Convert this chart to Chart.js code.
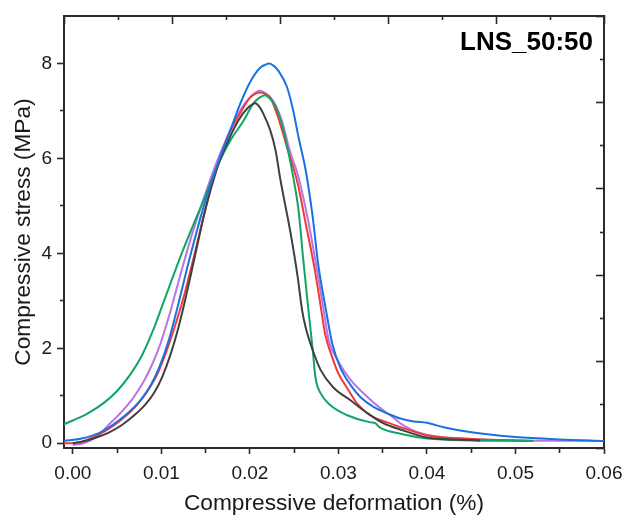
<!DOCTYPE html>
<html>
<head>
<meta charset="utf-8">
<script src="https://cdn.jsdelivr.net/npm/chart.js@4.4.1/dist/chart.umd.min.js"></script>
<style>
    html, body { margin: 0; padding: 0; background: #fff; }
    canvas { display: block; }
</style>
</head>
<body>
<canvas id="chart" width="622" height="516"></canvas>
<script>
// sample label and axis ticks
const sampleName = 'LNS_50:50';
const xTicks = [0, 0.005, 0.01, 0.015, 0.02, 0.025, 0.03, 0.035, 0.04, 0.045, 0.05, 0.055, 0.06];
const yTicks = [0, 1, 2, 3, 4, 5, 6, 7, 8];
const mirrorTicks = [0, 0.5, 1, 1.5, 2, 2.5, 3, 3.5, 4, 4.5, 5];

// curves: deformation (%) / stress (MPa)
const blackX = [0.0000, 0.0010, 0.0025, 0.0040, 0.0055, 0.0070, 0.0082, 0.0092, 0.0101, 0.0110, 0.0118, 0.0126, 0.0138, 0.0150, 0.0162, 0.0175, 0.0187, 0.0197, 0.0206, 0.0211, 0.0215, 0.0223, 0.0229, 0.0234, 0.0238, 0.0246, 0.0254, 0.0259, 0.0263, 0.0271, 0.0280, 0.0294, 0.0314, 0.0333, 0.0351, 0.0370, 0.0400, 0.0430, 0.0460];
const blackY = [0.00, 0.03, 0.11, 0.22, 0.38, 0.60, 0.82, 1.07, 1.40, 1.85, 2.35, 2.95, 3.95, 4.95, 5.75, 6.35, 6.80, 7.05, 7.16, 7.08, 6.95, 6.59, 6.17, 5.60, 5.20, 4.42, 3.50, 2.80, 2.44, 1.96, 1.54, 1.18, 0.90, 0.63, 0.42, 0.29, 0.12, 0.08, 0.06];

const redX = [-0.0010, 0.0000, 0.0010, 0.0028, 0.0045, 0.0060, 0.0073, 0.0085, 0.0096, 0.0106, 0.0115, 0.0124, 0.0137, 0.0150, 0.0163, 0.0176, 0.0189, 0.0200, 0.0206, 0.0211, 0.0217, 0.0223, 0.0232, 0.0242, 0.0254, 0.0263, 0.0272, 0.0279, 0.0285, 0.0293, 0.0300, 0.0310, 0.0321, 0.0336, 0.0355, 0.0370, 0.0400, 0.0450, 0.0520];
const redY = [0.00, 0.00, 0.03, 0.17, 0.36, 0.58, 0.82, 1.12, 1.48, 1.95, 2.45, 3.00, 3.95, 4.95, 5.80, 6.50, 6.95, 7.28, 7.36, 7.39, 7.36, 7.28, 6.86, 6.23, 5.47, 4.63, 3.79, 3.00, 2.30, 1.81, 1.47, 1.16, 0.84, 0.59, 0.44, 0.34, 0.17, 0.09, 0.05];

const greenX = [-0.0010, 0.0000, 0.0017, 0.0035, 0.0050, 0.0065, 0.0078, 0.0090, 0.0103, 0.0123, 0.0145, 0.0166, 0.0178, 0.0193, 0.0204, 0.0211, 0.0217, 0.0223, 0.0229, 0.0238, 0.0243, 0.0249, 0.0255, 0.0260, 0.0265, 0.0271, 0.0274, 0.0280, 0.0291, 0.0310, 0.0336, 0.0342, 0.0344, 0.0348, 0.0370, 0.0400, 0.0450, 0.0520];
const greenY = [0.40, 0.48, 0.63, 0.85, 1.10, 1.45, 1.85, 2.35, 3.00, 4.00, 5.00, 5.95, 6.38, 6.80, 7.16, 7.28, 7.33, 7.25, 7.10, 6.59, 6.17, 5.60, 4.90, 3.92, 3.00, 1.96, 1.39, 1.05, 0.80, 0.59, 0.44, 0.42, 0.38, 0.32, 0.20, 0.10, 0.06, 0.05];

const blueX = [-0.0010, 0.0010, 0.0030, 0.0046, 0.0062, 0.0076, 0.0088, 0.0098, 0.0108, 0.0118, 0.0132, 0.0148, 0.0163, 0.0178, 0.0189, 0.0200, 0.0211, 0.0217, 0.0222, 0.0227, 0.0232, 0.0242, 0.0249, 0.0255, 0.0263, 0.0271, 0.0277, 0.0286, 0.0293, 0.0302, 0.0314, 0.0325, 0.0340, 0.0355, 0.0370, 0.0385, 0.0400, 0.0420, 0.0450, 0.0500, 0.0550, 0.0600];
const blueY = [0.05, 0.10, 0.22, 0.40, 0.63, 0.90, 1.22, 1.62, 2.15, 2.85, 3.90, 5.00, 5.85, 6.60, 7.15, 7.60, 7.90, 7.97, 8.00, 7.95, 7.85, 7.50, 7.00, 6.44, 5.75, 4.76, 3.79, 2.80, 2.10, 1.60, 1.22, 0.97, 0.76, 0.63, 0.52, 0.46, 0.43, 0.33, 0.23, 0.13, 0.08, 0.05];

const purpleX = [0.0000, 0.0012, 0.0020, 0.0028, 0.0040, 0.0055, 0.0068, 0.0080, 0.0090, 0.0099, 0.0109, 0.0120, 0.0133, 0.0146, 0.0160, 0.0172, 0.0183, 0.0192, 0.0200, 0.0206, 0.0211, 0.0217, 0.0226, 0.0236, 0.0245, 0.0255, 0.0265, 0.0274, 0.0283, 0.0289, 0.0299, 0.0314, 0.0333, 0.0348, 0.0360, 0.0370, 0.0383, 0.0393, 0.0410, 0.0450, 0.0500, 0.0600];
const purpleY = [-0.04, 0.00, 0.06, 0.16, 0.38, 0.66, 0.95, 1.30, 1.68, 2.10, 2.70, 3.45, 4.30, 5.05, 5.80, 6.35, 6.80, 7.10, 7.28, 7.38, 7.43, 7.38, 7.22, 6.80, 6.17, 5.60, 4.76, 3.85, 2.84, 2.17, 1.75, 1.33, 0.97, 0.73, 0.57, 0.42, 0.28, 0.21, 0.14, 0.09, 0.06, 0.05];

const FONT = '"Liberation Sans", Arial, Helvetica, sans-serif';
const AXIS = '#2b2b2b';
const TEXT = '#1a1a1a';

function onStep(v, step) {
    return Math.abs(v / step - Math.round(v / step)) < 1e-6;
}

function series(xs, ys, color) {
    return {
        data: xs.map((x, i) => ({ x: x, y: ys[i] })),
        borderColor: color,
        borderWidth: 2,
        pointRadius: 0,
        showLine: true,
        fill: false,
        cubicInterpolationMode: 'monotone',
        xAxisID: 'x',
        yAxisID: 'y'
    };
}

const sampleLabel = {
    id: 'sampleLabel',
    afterDraw(chart) {
        const { ctx, chartArea } = chart;
        ctx.save();
        ctx.font = 'bold 26px ' + FONT;
        ctx.fillStyle = '#000';
        ctx.textAlign = 'right';
        ctx.textBaseline = 'alphabetic';
        ctx.fillText(sampleName, chartArea.right - 11, chartArea.top + 34);
        ctx.restore();
    }
};

new Chart(document.getElementById('chart'), {
    type: 'scatter',
    data: {
        datasets: [
            series(blueX, blueY, '#1a72e0'),
            series(blackX, blackY, '#404040'),
            series(greenX, greenY, '#12a465'),
            series(redX, redY, '#f03a3a'),
            series(purpleX, purpleY, '#bb74e6')
        ]
    },
    options: {
        responsive: false,
        animation: false,
        devicePixelRatio: 1,
        layout: { padding: 0 },
        plugins: { legend: { display: false }, tooltip: { enabled: false } },
        scales: {
            x: {
                type: 'linear', position: 'bottom', min: -0.001, max: 0.06,
                afterBuildTicks: s => { s.ticks = xTicks.map(v => ({ value: v })); },
                afterFit: s => { s.height = 68; s.paddingLeft = 0; s.paddingRight = 0; },
                ticks: {
                    autoSkip: false, maxRotation: 0, minRotation: 0, padding: 8,
                    color: TEXT, font: { family: FONT, size: 19 },
                    callback: v => onStep(v, 0.01) ? v.toFixed(2) : ''
                },
                grid: {
                    drawOnChartArea: false, tickLength: 6, tickWidth: 1.6, tickColor: AXIS,
                    tickBorderDash: c => (c.tick && !onStep(c.tick.value, 0.01)) ? [4, 100] : []
                },
                border: { color: AXIS, width: 2 },
                title: {
                    display: true, text: 'Compressive deformation (%)', color: TEXT,
                    font: { family: FONT, size: 22.7, lineHeight: 1 }, padding: { top: 0, bottom: 1 }
                }
            },
            y: {
                type: 'linear', position: 'left', min: -0.1, max: 9,
                afterBuildTicks: s => { s.ticks = yTicks.map(v => ({ value: v })); },
                afterFit: s => { s.width = 64; s.paddingTop = 0; s.paddingBottom = 0; },
                ticks: {
                    autoSkip: false, padding: 5, color: TEXT, font: { family: FONT, size: 19 },
                    callback: v => onStep(v, 2) ? String(v) : ''
                },
                grid: {
                    drawOnChartArea: false, tickLength: 7, tickWidth: 1.6, tickColor: AXIS,
                    tickBorderDash: c => (c.tick && !onStep(c.tick.value, 2)) ? [4, 3] : [],
                    tickBorderDashOffset: c => (c.tick && !onStep(c.tick.value, 2)) ? 4 : 0
                },
                border: { color: AXIS, width: 2 },
                title: {
                    display: true, text: 'Compressive stress (MPa)', color: TEXT,
                    font: { family: FONT, size: 22.7, lineHeight: 1 }, padding: { top: 12, bottom: 0 }
                }
            },
            x2: {
                type: 'linear', position: 'top', min: 0, max: 5,
                afterBuildTicks: s => { s.ticks = mirrorTicks.map(v => ({ value: v })); },
                afterFit: s => { s.height = 16; s.paddingLeft = 0; s.paddingRight = 0; },
                ticks: { display: false },
                grid: {
                    drawOnChartArea: false, tickLength: -8, tickWidth: 1.6, tickColor: AXIS,
                    tickBorderDash: c => (c.tick && !onStep(c.tick.value, 1)) ? [5, 4] : [],
                    tickBorderDashOffset: c => (c.tick && !onStep(c.tick.value, 1)) ? 5 : 0
                },
                border: { color: AXIS, width: 2 }
            },
            y2: {
                type: 'linear', position: 'right', min: 0, max: 5,
                afterBuildTicks: s => { s.ticks = mirrorTicks.map(v => ({ value: v })); },
                afterFit: s => { s.width = 18; s.paddingTop = 0; s.paddingBottom = 0; },
                ticks: { display: false },
                grid: {
                    drawOnChartArea: false, tickLength: -8, tickWidth: 1.6, tickColor: AXIS,
                    tickBorderDash: c => (c.tick && !onStep(c.tick.value, 1)) ? [5, 100] : []
                },
                border: { color: AXIS, width: 2 }
            }
        }
    },
    plugins: [sampleLabel]
});
</script>
</body>
</html>
